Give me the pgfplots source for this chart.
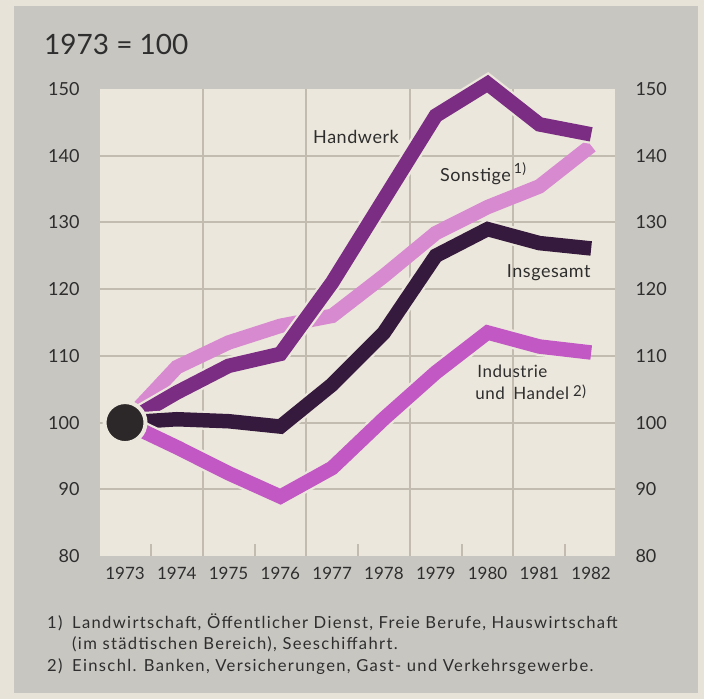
\documentclass[border=0pt]{standalone}
\usepackage{pgfplots}
\pgfplotsset{compat=1.18}
\usepackage{pgfplotstable}
\usepackage{fontspec}
\setmainfont{Lato}
\newfontfamily\fnfont[LetterSpace=8]{Lato}
\newfontfamily\lbfont[LetterSpace=3]{Lato}
\definecolor{outer}{HTML}{E7E3D9}
\definecolor{panel}{HTML}{C8C6C1}
\definecolor{plotbg}{HTML}{ECE7DC}
\definecolor{gridc}{HTML}{C2BCB0}
\definecolor{hand}{HTML}{7B2C83}
\definecolor{sons}{HTML}{D88AD0}
\definecolor{insg}{HTML}{361A3D}
\definecolor{indu}{HTML}{C258C4}
\definecolor{dotc}{HTML}{2C2829}
\definecolor{txt}{HTML}{2E2E2E}

\pgfplotstableread{
year hand  sons  insg  indu
1973 100   100   100   100
1974 104.5 108.3 100.5 96.3
1975 108.5 112   100.2 92.4
1976 110.3 114.5 99.4  88.9
1977 121   116   105.7 93.2
1978 133.5 122   113.5 100.6
1979 146   128.4 125   107.5
1980 150.8 132.3 129   113.5
1981 144.7 135.4 126.9 111.4
1982 143.2 141.5 126.1 110.5
}\datatab

\begin{document}
\begin{tikzpicture}
\fill[outer] (0,0) rectangle (704bp,699bp);
\fill[panel] (14bp,6bp) rectangle (698bp,693bp);
\path[use as bounding box] (0,0) rectangle (704bp,699bp);
\node[anchor=base west, inner sep=0, text=txt, font=\fontsize{28bp}{28bp}\selectfont] at (44bp,644bp) {1973 = 100};
\begin{axis}[
  at={(100bp,143bp)}, anchor=south west, scale only axis,
  width=515bp, height=467bp,
  xmin=1972.517, xmax=1982.46, ymin=80, ymax=150,
  clip=false,
  axis line style={draw=none},
  axis background/.style={fill=plotbg},
  /pgf/number format/assume math mode=true,
  xtick={1973,1974,...,1982},
  xticklabel={\pgfmathprintnumber[1000 sep={}]{\tick}},
  minor xtick={1974.5,1976.5,1978.5,1980.5},
  xminorgrids=true,
  minor grid style={draw=gridc, line width=2bp},
  major grid style={draw=gridc, line width=2bp},
  minor tick length=0pt,
  major tick length=0pt,
  xtick pos=left,
  ytick={80,90,...,150},
  ytick pos=left,
  extra y ticks={90,100,...,140},
  extra y tick labels={},
  extra y tick style={grid=major, major tick length=0pt},
  extra x ticks={1973.5,1975.5,1977.5,1979.5,1981.5},
  extra x tick labels={},
  extra x tick style={grid=none, major tick length=12bp, tick align=inside, tick style={draw=gridc, line width=2bp}},
  yticklabel style={font=\fontsize{18bp}{18bp}\selectfont, text=txt, xshift=-17bp},
  xticklabel style={font=\fontsize{17bp}{17bp}\selectfont, text=txt, yshift=-8bp},
  line join=miter,
]
\addplot[draw=sons, line width=14.5bp] table[x=year,y=sons]{\datatab};
\addplot[draw=plotbg, line width=19bp] table[x=year,y=hand]{\datatab};
\addplot[draw=hand, line width=14.5bp] table[x=year,y=hand]{\datatab};
\addplot[draw=plotbg, line width=19bp] table[x=year,y=insg]{\datatab};
\addplot[draw=insg, line width=14.5bp] table[x=year,y=insg]{\datatab};
\addplot[draw=plotbg, line width=19bp] table[x=year,y=indu]{\datatab};
\addplot[draw=indu, line width=14.5bp] table[x=year,y=indu]{\datatab};
\addplot[only marks, mark=*, mark size=20.5bp, mark options={fill=dotc, draw=plotbg, line width=4bp}] coordinates {(1973,100)};
\node[anchor=base west, inner sep=0, text=txt, font=\lbfont\fontsize{18bp}{18bp}\selectfont] at (axis cs:1976.63,141.9) {Handwerk};
\node[anchor=base west, inner sep=0, text=txt, font=\lbfont\fontsize{18bp}{18bp}\selectfont] at (axis cs:1979.08,136.1) {Sonstige\hspace{3bp}\raisebox{8bp}{\fontsize{14bp}{14bp}\selectfont 1)}};
\node[anchor=base west, inner sep=0, text=txt, font=\lbfont\fontsize{18bp}{18bp}\selectfont] at (axis cs:1980.37,121.8) {Insgesamt};
\node[anchor=base west, inner sep=0, text=txt, font=\lbfont\fontsize{17bp}{17bp}\selectfont] at (axis cs:1979.8,106.8) {Industrie};
\node[anchor=base west, inner sep=0, text=txt, font=\lbfont\fontsize{17bp}{17bp}\selectfont] at (axis cs:1979.76,103.5) {und\hspace{0.5em}Handel\hspace{4bp}\raisebox{3bp}{\fontsize{15bp}{15bp}\selectfont 2)}};
\end{axis}
\begin{axis}[
  at={(100bp,143bp)}, anchor=south west, scale only axis,
  width=515bp, height=467bp,
  xmin=1972.517, xmax=1982.46, ymin=80, ymax=150,
  axis line style={draw=none},
  hide x axis,
  /pgf/number format/assume math mode=true,
  ytick={80,90,...,150},
  ytick pos=right, yticklabel pos=right,
  major tick length=0pt,
  yticklabel style={font=\fontsize{18bp}{18bp}\selectfont, text=txt, xshift=17bp},
]
\end{axis}
\begin{scope}[every node/.style={anchor=base west, inner sep=0, text=txt, font=\fnfont\fontsize{16.6bp}{16.6bp}\selectfont}]
\node at (47bp,70bp) {1)};
\node at (72bp,70bp) {Landwirtschaft, Öffentlicher Dienst, Freie Berufe, Hauswirtschaft};
\node at (72bp,49bp) {(im städtischen Bereich), Seeschiffahrt.};
\node at (47bp,28bp) {2)};
\node at (72bp,28bp) {Einschl. Banken, Versicherungen, Gast- und Verkehrsgewerbe.};
\end{scope}
\end{tikzpicture}
\end{document}
